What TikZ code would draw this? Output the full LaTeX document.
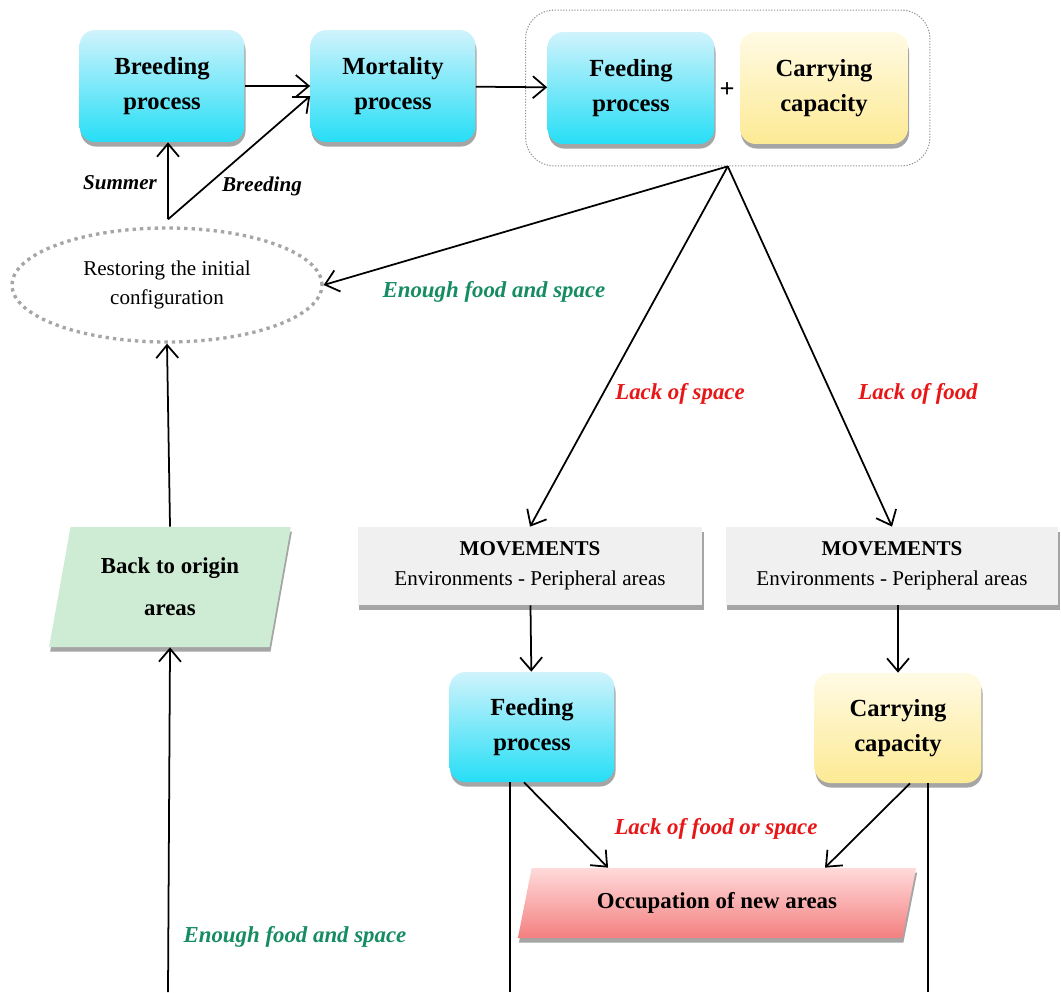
\documentclass[tikz,border=0pt]{standalone}
\usepackage{fontspec}
\setmainfont{Liberation Serif}
\usetikzlibrary{arrows.meta, positioning, shapes.geometric, shadows, fit, calc}

\definecolor{cyantop}{RGB}{208,243,252}
\definecolor{cyanbot}{RGB}{38,222,246}
\definecolor{yeltop}{RGB}{255,250,228}
\definecolor{yelbot}{RGB}{253,234,148}
\definecolor{movgray}{RGB}{240,240,240}
\definecolor{backgreen}{RGB}{206,236,211}
\definecolor{occtop}{RGB}{255,218,218}
\definecolor{occbot}{RGB}{244,128,128}
\definecolor{okgreen}{RGB}{22,140,98}
\definecolor{lackred}{RGB}{232,22,22}

\begin{document}
\begin{tikzpicture}[
        x=0.02cm, y=-0.02cm,
        shadowed/.style={drop shadow={shadow xshift=0.6pt, shadow yshift=-2.6pt,
                         opacity=0.5, fill=black!70}},
        proc/.style={rounded corners=9pt, minimum width=3.3cm, minimum height=2.24cm,
                     align=center, font=\fontsize{14}{20}\selectfont\bfseries,
                     top color=cyantop, bottom color=cyanbot, shadowed},
        capa/.style={proc, top color=yeltop, bottom color=yelbot},
        movbox/.style={fill=movgray, minimum width=6.9cm, minimum height=1.56cm,
                       align=center, font=\fontsize{12}{17}\selectfont, shadowed},
        slanted/.style={trapezium, trapezium stretches=true, align=center, shadowed},
        lbl/.style={font=\fontsize{13}{15}\selectfont\bfseries\itshape},
        arrow/.style={-{Straight Barb[length=2.6mm, width=4.4mm, line width=1pt]}, line width=1pt},
        link/.style={line width=1pt}
    ]
        \path[use as bounding box, fill=white] (0,0) rectangle (1061,992);

        % top row
        \node[proc] (breed) at (162,86) {Breeding\\process};
        \node[proc] (mort) at (393,86) {Mortality\\process};
        \node[proc, minimum width=3.34cm] (feedT) at (631,88) {Feeding\\process};
        \node[capa, minimum width=3.36cm] (carT) at (824,88) {Carrying\\capacity};
        \node[font=\fontsize{15}{16}\selectfont\bfseries] (plus) at (727,90) {+};
        \node[draw=gray!85, line width=0.6pt, dash pattern=on 0.7pt off 0.9pt,
              rounded corners=16pt, inner sep=0.43cm, fit=(feedT)(carT)] (group) {};

        \node[ellipse, draw=gray!70, line width=1.9pt, dash pattern=on 1.9pt off 2.3pt,
              minimum width=6.2cm, minimum height=2.28cm, align=center,
              font=\fontsize{12}{17}\selectfont] (restore) at (167,285)
              {Restoring the initial\\configuration};
        \coordinate (split) at ($(restore.north)+(1,-7)$);

        % middle and bottom
        \node[movbox] (movA) at (530,566) {\textbf{MOVEMENTS}\\Environments - Peripheral areas};
        \node[movbox, minimum width=6.66cm] (movB) at (892,566) {\textbf{MOVEMENTS}\\Environments - Peripheral areas};
        \node[proc, minimum height=2.2cm] (feedB) at (532,727) {Feeding\\process};
        \node[capa, minimum width=3.34cm, minimum height=2.2cm] (carB) at (898,728) {Carrying\\capacity};
        \node[slanted, trapezium left angle=77, trapezium right angle=103,
              minimum width=4.84cm, minimum height=2.4cm, fill=backgreen,
              font=\fontsize{13}{24}\selectfont\bfseries] (back) at (170,587) {Back to origin\\areas};
        \node[slanted, trapezium left angle=74, trapezium right angle=106,
              minimum width=7.98cm, minimum height=1.4cm, top color=occtop, bottom color=occbot,
              font=\fontsize{13}{16}\selectfont\bfseries] (occ) at (717,903) {Occupation of new areas};

        \coordinate (retL) at (168,992);
        \coordinate (retF) at (510,992);
        \coordinate (retC) at (928,992);

        % labels
        \node[lbl, font=\fontsize{12}{14}\selectfont\bfseries\itshape] (lSummer) at (120,183) {Summer};
        \node[lbl, font=\fontsize{12}{14}\selectfont\bfseries\itshape] (lBreed) at (262,186) {Breeding};
        \node[lbl, okgreen] (lEnoughT) at (494,292) {Enough food and space};
        \node[lbl, lackred] (lSpace) at (680,394) {Lack of space};
        \node[lbl, lackred] (lFood) at (918,394) {Lack of food};
        \node[lbl, lackred] (lEither) at (716,829) {Lack of food or space};
        \node[lbl, okgreen] (lEnoughB) at (295,937) {Enough food and space};

        \draw[arrow] (breed) -- (mort);
        \draw[arrow] (mort) -- (feedT);
        \draw[arrow] (split) -- (split |- breed.south);
        \draw[arrow] (split) -- ([yshift=-0.2cm]mort.west);
        \draw[arrow] (group.south) -- (restore.east);
        \draw[arrow] (group.south) -- (movA.north);
        \draw[arrow] (group.south) -- (movB.north);
        \draw[arrow] (movA) -- (feedB);
        \draw[arrow] (carB |- movB.south) -- (carB);
        \draw[arrow] ([xshift=-0.16cm]feedB.south) -- ([xshift=-2.18cm]occ.north);
        \draw[arrow] ([xshift=0.24cm]carB.south) -- ([xshift=2.16cm]occ.north);
        \draw[arrow] (back.north) -- (restore.south);
        \draw[arrow] (retL) -- (back.south);
        \draw[link] (feedB.south -| retF) -- (retF);
        \draw[link] (carB.south -| retC) -- (retC);
    \end{tikzpicture}
\end{document}
